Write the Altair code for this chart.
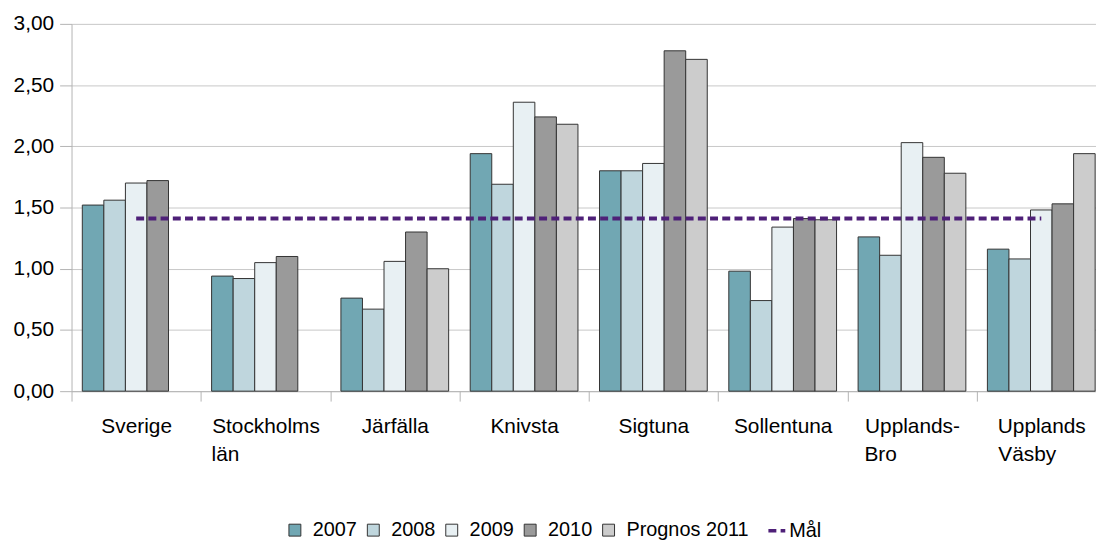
import altair as alt
import pandas as pd

categories = ["Sverige", "Stockholms län", "Järfälla", "Knivsta", "Sigtuna",
              "Sollentuna", "Upplands-Bro", "Upplands Väsby"]
series_names = ["2007", "2008", "2009", "2010", "Prognos 2011"]
v2007 = [1.52, 0.94, 0.76, 1.94, 1.80, 0.98, 1.26, 1.16]
v2008 = [1.56, 0.92, 0.67, 1.69, 1.80, 0.74, 1.11, 1.08]
v2009 = [1.70, 1.05, 1.06, 2.36, 1.86, 1.34, 2.03, 1.48]
v2010 = [1.72, 1.10, 1.30, 2.24, 2.78, 1.41, 1.91, 1.53]
v2011 = [None, None, 1.00, 2.18, 2.71, 1.40, 1.78, 1.94]
mal_name = "Mål"
mal_values = [1.41, 1.41, 1.41, 1.41, 1.41, 1.41, 1.41, 1.41]
y_ticks = [0, 0.5, 1.0, 1.5, 2.0, 2.5, 3.0]

series_colors = ["#71a7b3", "#bfd6dd", "#e8f0f3", "#9a9a9a", "#cccccc"]
mal_color = "#4e2078"

# axis label line breaks (second lines padded so lines start at the same left edge)
NB = "\u00a0"
ZW = "\u200b"
label_lines = {
    "Stockholms län": ["Stockholms", "län" + NB * 14 + ZW],
    "Upplands-Bro": ["Upplands-", "Bro" + NB * 11 + ZW],
    "Upplands Väsby": ["Upplands", "Väsby" + NB * 5 + ZW],
}

rows = []
for name, vals in zip(series_names, [v2007, v2008, v2009, v2010, v2011]):
    for c, v in zip(categories, vals):
        if v is not None:
            rows.append({"kategori": c, "serie": name, "värde": v})
bars_df = pd.DataFrame(rows)
mal_df = pd.DataFrame({"kategori": categories, "värde": mal_values, "serie": mal_name})

expr = "datum.label"
for k, lines in reversed(list(label_lines.items())):
    arr = "[" + ", ".join("'" + s + "'" for s in lines) + "]"
    expr = f"datum.label === '{k}' ? {arr} : ({expr})"

FONT = "Liberation Sans"
FS = 21
LFS = 20

# the original plot area continues a little past the right edge of the picture
x_enc = alt.X(
    "kategori:N", sort=categories, title=None,
    scale=alt.Scale(domain=categories, paddingInner=0, paddingOuter=0,
                    range=[0, alt.expr("width + 10")]),
    axis=alt.Axis(labelAngle=0, labelExpr=expr, tickBand="extent", tickSize=10,
                  tickColor="#b3b3b3", domainColor="#b3b3b3", labelPadding=15,
                  labelLineHeight=28, labelFont=FONT, labelFontSize=FS,
                  labelColor="#000000", grid=False, labelBaseline="top"),
)
y_enc = alt.Y(
    "värde:Q", title=None,
    scale=alt.Scale(domain=[0, 3], nice=False),
    axis=alt.Axis(values=y_ticks, labelExpr="replace(format(datum.value, '.2f'), '.', ',')",
                  tickSize=12, tickColor="#b3b3b3", domainColor="#b3b3b3",
                  gridColor="#c8c8c8", labelPadding=6, labelFont=FONT,
                  labelFontSize=FS, labelColor="#000000"),
)

bars = alt.Chart(bars_df).mark_bar(stroke="#333333", strokeWidth=1, opacity=1).encode(
    x=x_enc,
    y=y_enc,
    xOffset=alt.XOffset("serie:N", sort=series_names,
                        scale=alt.Scale(domain=series_names, paddingInner=0, paddingOuter=0.5)),
    color=alt.Color("serie:N", sort=series_names,
                    scale=alt.Scale(domain=series_names, range=series_colors),
                    legend=alt.Legend(title=None, orient="none", direction="horizontal",
                                      legendX=215, legendY=500, labelFont=FONT,
                                      labelFontSize=LFS, labelColor="#000000",
                                      symbolSize=144, symbolType="square",
                                      symbolStrokeColor="#333333", symbolStrokeWidth=1,
                                      symbolOpacity=1, labelOffset=8, columnPadding=6,
                                      padding=0)),
)

line = alt.Chart(mal_df).mark_line(strokeWidth=4, color=mal_color).encode(
    x=alt.X("kategori:N", sort=categories),
    y=alt.Y("värde:Q"),
    strokeDash=alt.StrokeDash("serie:N",
                              scale=alt.Scale(domain=[mal_name], range=[[8, 4.3]]),
                              legend=alt.Legend(title=None, orient="none", legendX=700,
                                                legendY=500, labelFont=FONT,
                                                labelFontSize=LFS, labelColor="#000000",
                                                symbolType="stroke", symbolSize=289,
                                                symbolStrokeColor=mal_color,
                                                symbolStrokeWidth=3.5, symbolDash=[6, 3],
                                                labelOffset=2, padding=0)),
)

chart = alt.layer(bars, line).properties(
    width=1032, height=370,
    autosize=alt.AutoSizeParams(type="none"),
    padding={"left": 64, "top": 14, "right": 0, "bottom": 156},
    background="#ffffff",
).configure_view(stroke=None)

chart.save("out.html", embed_options={"renderer": "svg", "actions": False})
